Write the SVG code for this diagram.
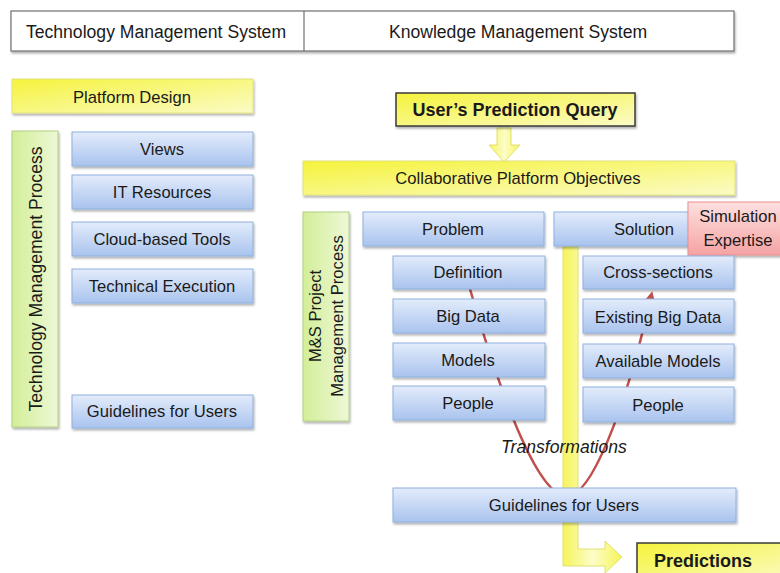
<svg xmlns="http://www.w3.org/2000/svg" width="780" height="573" viewBox="0 0 780 573">
<defs>
<linearGradient id="gBlue" x1="0" y1="0" x2="0" y2="1">
<stop offset="0" stop-color="#e3ecfb"/><stop offset="1" stop-color="#a9c3ee"/>
</linearGradient>
<linearGradient id="gYellow" x1="0" y1="0" x2="1" y2="1">
<stop offset="0" stop-color="#f5f33c"/><stop offset="1" stop-color="#fbfbc6"/>
</linearGradient>
<linearGradient id="gGreen" x1="0" y1="0" x2="1" y2="0">
<stop offset="0" stop-color="#d3ee98"/><stop offset="1" stop-color="#eef8d6"/>
</linearGradient>
<linearGradient id="gPink" x1="0" y1="0" x2="0" y2="1">
<stop offset="0" stop-color="#fde0e0"/><stop offset="1" stop-color="#f5a3a3"/>
</linearGradient>
<linearGradient id="gBar" x1="0" y1="0" x2="1" y2="0">
<stop offset="0" stop-color="#f6f45a"/><stop offset="0.5" stop-color="#fdfdc8"/><stop offset="1" stop-color="#f6f45a"/>
</linearGradient>
<filter id="sh" x="-10%" y="-10%" width="120%" height="140%">
<feDropShadow dx="1" dy="2" stdDeviation="1.2" flood-color="#000" flood-opacity="0.3"/>
</filter>
<marker id="redArrow" viewBox="0 0 10 10" refX="1" refY="5" markerWidth="4.5" markerHeight="4.5" orient="auto" markerUnits="strokeWidth">
<path d="M0,0 L10,5 L0,10 Z" fill="#c0504d"/>
</marker>
</defs>
<style>
text{font-family:"Liberation Sans",Arial,sans-serif;fill:#1a1a1a;text-anchor:middle;dominant-baseline:central}
.blue{fill:url(#gBlue);stroke:#8fb0df;stroke-width:1;filter:url(#sh)}
.yel{fill:url(#gYellow);stroke:#e2e27a;stroke-width:1;filter:url(#sh)}
.yelb{fill:url(#gYellow);stroke:#3a3a3a;stroke-width:1.5;filter:url(#sh)}
.grn{fill:url(#gGreen);stroke:#b0d080;stroke-width:1;filter:url(#sh)}
.pink{fill:url(#gPink);stroke:#e89090;stroke-width:1;filter:url(#sh)}
.t16{font-size:16.6px}
.t17{font-size:17.6px}
.bold{font-weight:bold;font-size:18px}
</style>
<rect width="780" height="573" fill="#ffffff"/>

<g id="header">
<rect x="11" y="11" width="723" height="40" fill="#ffffff" stroke="#707070" stroke-width="1.2" filter="url(#sh)"/>
<line x1="304" y1="11" x2="304" y2="51" stroke="#707070" stroke-width="1.2"/>
<text class="t17" x="156" y="32">Technology Management System</text>
<text class="t17" x="518" y="32">Knowledge Management System</text>
</g>

<g id="platform-design">
<rect class="yel" x="12" y="79" width="241" height="34"/>
<text class="t16" x="132" y="97">Platform Design</text>
</g>

<g id="tech-mgmt-process">
<rect class="grn" x="12" y="131" width="46" height="296"/>
<text class="t17" transform="translate(36,279) rotate(-90)">Technology Management  Process</text>
</g>

<g id="views"><rect class="blue" x="72" y="132" width="181" height="34"/><text class="t16" x="162" y="149">Views</text></g>
<g id="it-resources"><rect class="blue" x="72" y="175" width="181" height="34"/><text class="t16" x="162" y="192">IT Resources</text></g>
<g id="cloud-tools"><rect class="blue" x="72" y="222" width="181" height="34"/><text class="t16" x="162" y="239">Cloud-based Tools</text></g>
<g id="tech-exec"><rect class="blue" x="72" y="269" width="181" height="34"/><text class="t16" x="162" y="286">Technical Execution</text></g>
<g id="guidelines-left"><rect class="blue" x="72" y="395" width="181" height="33"/><text class="t16" x="162" y="411">Guidelines for Users</text></g>

<g id="connectors">
<path d="M497,128 L511,128 L511,145 L520,145 L504,162 L489,145 L497,145 Z" fill="url(#gBar)" stroke="#e0e070" stroke-width="1"/>
<path d="M563,246 L578,246 L578,549 L605,549 L605,541 L622,557 L605,573 L605,566 L563,566 Z" fill="url(#gBar)" stroke="#e0e070" stroke-width="1"/>
<path d="M470,289 C505,410 540,497 567,496 C590,497 624,415 650,301" fill="none" stroke="#c0504d" stroke-width="2.5" marker-end="url(#redArrow)"/>
</g>

<g id="query">
<rect class="yelb" x="396" y="93" width="239" height="33"/>
<text class="bold" x="515" y="110">User’s Prediction Query</text>
</g>

<g id="objectives">
<rect class="yel" x="303" y="161" width="432" height="34"/>
<text class="t16" x="518" y="178">Collaborative Platform Objectives</text>
</g>

<g id="ms-process">
<rect class="grn" x="303" y="212" width="46" height="209"/>
<text class="t16" transform="translate(315,316) rotate(-90)">M&amp;S Project</text>
<text class="t16" transform="translate(337,316) rotate(-90)">Management Process</text>
</g>

<g id="problem"><rect class="blue" x="363" y="212" width="181" height="34"/><text class="t16" x="453" y="229">Problem</text></g>
<g id="solution"><rect class="blue" x="554" y="212" width="181" height="34"/><text class="t16" x="644" y="229">Solution</text></g>
<g id="sim-expertise">
<rect class="pink" x="688" y="202" width="96" height="53"/>
<text class="t16" x="738" y="216">Simulation</text>
<text class="t16" x="738" y="240">Expertise</text>
</g>

<g id="definition"><rect class="blue" x="393" y="256" width="152" height="33"/><text class="t16" x="468" y="272">Definition</text></g>
<g id="big-data"><rect class="blue" x="393" y="299" width="152" height="34"/><text class="t16" x="468" y="316">Big Data</text></g>
<g id="models"><rect class="blue" x="393" y="343" width="152" height="34"/><text class="t16" x="468" y="360">Models</text></g>
<g id="people-left"><rect class="blue" x="393" y="386" width="152" height="34"/><text class="t16" x="468" y="403">People</text></g>

<g id="cross-sections"><rect class="blue" x="583" y="256" width="151" height="33"/><text class="t16" x="658" y="272">Cross-sections</text></g>
<g id="existing-big-data"><rect class="blue" x="583" y="299" width="151" height="34"/><text class="t16" x="658" y="317">Existing Big Data</text></g>
<g id="available-models"><rect class="blue" x="583" y="344" width="151" height="34"/><text class="t16" x="658" y="361">Available Models</text></g>
<g id="people-right"><rect class="blue" x="583" y="387" width="151" height="35"/><text class="t16" x="658" y="405">People</text></g>

<g id="transformations-label">
<text x="564" y="447" style="font-size:17.6px;font-style:italic">Transformations</text>
</g>

<g id="guidelines-bottom"><rect class="blue" x="393" y="488" width="343" height="34"/><text class="t16" x="564" y="505">Guidelines for Users</text></g>

<g id="predictions">
<rect class="yelb" x="637" y="543" width="150" height="40"/>
<text class="bold" x="703" y="561">Predictions</text>
</g>
</svg>
